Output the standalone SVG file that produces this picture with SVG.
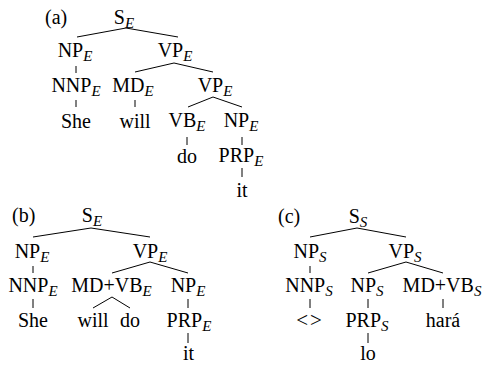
<svg xmlns="http://www.w3.org/2000/svg" width="483" height="369" viewBox="0 0 483 369">
<style>
text{font-family:"Liberation Serif","Times New Roman",serif;font-size:20px;fill:#000;text-anchor:middle}
.lbl{text-anchor:start}
.s{font-style:italic;font-size:15px}
.ang{font-size:21px}
#edges line{stroke:#000;stroke-width:1}
</style>
<rect width="483" height="369" fill="#fff"/>
<g id="edges">
<line x1="126" y1="28" x2="77" y2="37"/><line x1="126" y1="28" x2="178" y2="37"/>
<line x1="76" y1="66" x2="76" y2="73"/>
<line x1="174" y1="63" x2="135" y2="72"/><line x1="174" y1="63" x2="213" y2="72"/>
<line x1="76" y1="100" x2="76" y2="107"/>
<line x1="135" y1="100" x2="135" y2="107"/>
<line x1="213" y1="97" x2="188" y2="107"/><line x1="213" y1="97" x2="242" y2="107"/>
<line x1="187" y1="137" x2="187" y2="145"/>
<line x1="242" y1="137" x2="242" y2="145"/>
<line x1="242" y1="168" x2="242" y2="177"/>
<line x1="91" y1="228" x2="33" y2="237"/><line x1="91" y1="228" x2="150" y2="237"/>
<line x1="33" y1="266" x2="33" y2="273"/>
<line x1="150" y1="262" x2="112" y2="273"/><line x1="150" y1="262" x2="188" y2="273"/>
<line x1="33" y1="299" x2="33" y2="308"/>
<line x1="112" y1="297" x2="93" y2="308"/><line x1="112" y1="297" x2="130" y2="308"/>
<line x1="188" y1="299" x2="188" y2="308"/>
<line x1="188" y1="333" x2="188" y2="343"/>
<line x1="357" y1="228" x2="310" y2="237"/><line x1="357" y1="228" x2="406" y2="237"/>
<line x1="310" y1="266" x2="310" y2="273"/>
<line x1="406" y1="262" x2="368" y2="273"/><line x1="406" y1="262" x2="443" y2="273"/>
<line x1="310" y1="299" x2="310" y2="308"/>
<line x1="368" y1="299" x2="368" y2="308"/>
<line x1="443" y1="299" x2="443" y2="308"/>
<line x1="368" y1="333" x2="368" y2="343"/>
</g>
<text class="lbl" x="45" y="24">(a)</text>
<g id="a_S"><text x="124" y="24">S<tspan class="s" dy="4">E</tspan></text></g>
<g id="a_NP"><text x="75" y="57">NP<tspan class="s" dy="4">E</tspan></text></g>
<g id="a_VP"><text x="175" y="57">VP<tspan class="s" dy="4">E</tspan></text></g>
<g id="a_NNP"><text x="76" y="92">NNP<tspan class="s" dy="4">E</tspan></text></g>
<g id="a_MD"><text x="133" y="92">MD<tspan class="s" dy="4">E</tspan></text></g>
<g id="a_VP2"><text x="215" y="92">VP<tspan class="s" dy="4">E</tspan></text></g>
<g id="a_She"><text x="76" y="128">She</text></g>
<g id="a_will"><text x="135" y="128">will</text></g>
<g id="a_VB"><text x="187" y="127">VB<tspan class="s" dy="4">E</tspan></text></g>
<g id="a_NP2"><text x="241" y="127">NP<tspan class="s" dy="4">E</tspan></text></g>
<g id="a_do"><text x="187" y="163">do</text></g>
<g id="a_PRP"><text x="241" y="162">PRP<tspan class="s" dy="4">E</tspan></text></g>
<g id="a_it"><text x="242" y="197">it</text></g>

<text class="lbl" x="12" y="222">(b)</text>
<g id="b_S"><text x="92" y="222">S<tspan class="s" dy="4">E</tspan></text></g>
<g id="b_NP"><text x="32" y="258">NP<tspan class="s" dy="4">E</tspan></text></g>
<g id="b_VP"><text x="150" y="258">VP<tspan class="s" dy="4">E</tspan></text></g>
<g id="b_NNP"><text x="33" y="292">NNP<tspan class="s" dy="4">E</tspan></text></g>
<g id="b_MDVB"><text x="111.5" y="292">MD+VB<tspan class="s" dy="4">E</tspan></text></g>
<g id="b_NP2"><text x="188" y="292">NP<tspan class="s" dy="4">E</tspan></text></g>
<g id="b_She"><text x="33" y="327">She</text></g>
<g id="b_will"><text x="93" y="327">will</text></g>
<g id="b_do"><text x="130" y="327">do</text></g>
<g id="b_PRP"><text x="189" y="327">PRP<tspan class="s" dy="4">E</tspan></text></g>
<g id="b_it"><text x="188.5" y="360">it</text></g>

<text class="lbl" x="278" y="223">(c)</text>
<g id="c_S"><text x="358" y="223">S<tspan class="s" dy="4">S</tspan></text></g>
<g id="c_NP"><text x="310" y="258">NP<tspan class="s" dy="4">S</tspan></text></g>
<g id="c_VP"><text x="405" y="258">VP<tspan class="s" dy="4">S</tspan></text></g>
<g id="c_NNP"><text x="309" y="292">NNP<tspan class="s" dy="4">S</tspan></text></g>
<g id="c_NP2"><text x="367" y="292">NP<tspan class="s" dy="4">S</tspan></text></g>
<g id="c_MDVB"><text x="442" y="292">MD+VB<tspan class="s" dy="4">S</tspan></text></g>
<g id="c_lt"><text class="ang" x="309" y="327">&lt;<tspan dx="2">&gt;</tspan></text></g>
<g id="c_PRP"><text x="367" y="327">PRP<tspan class="s" dy="4">S</tspan></text></g>
<g id="c_hara"><text x="443" y="327">hará</text></g>
<g id="c_lo"><text x="368" y="360">lo</text></g>
</svg>
